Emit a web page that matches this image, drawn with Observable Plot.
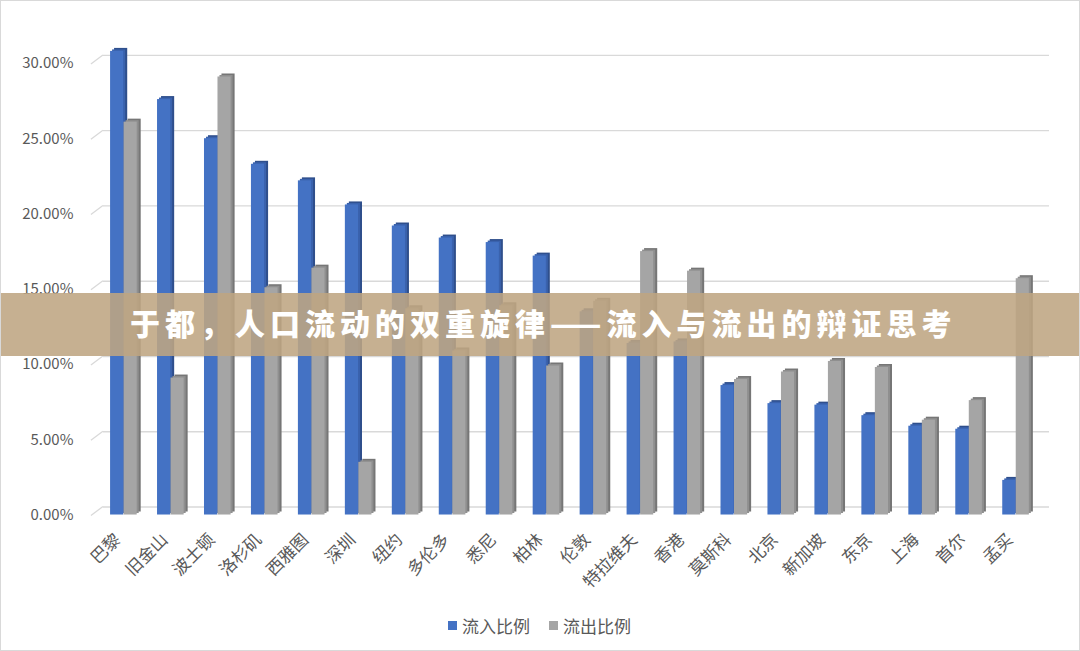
<!DOCTYPE html>
<html><head><meta charset="utf-8">
<script src="https://cdn.jsdelivr.net/npm/d3@7"></script>
<script src="https://cdn.jsdelivr.net/npm/@observablehq/plot@0.6"></script>
<style>
body{margin:0;background:#fff;}
#wrap{position:relative;width:1080px;height:651px;box-sizing:border-box;border:1px solid #d9d9d9;overflow:hidden;font-family:"Noto Sans CJK SC",sans-serif;background:#fff;}
#chart{position:absolute;left:-1px;top:-1px;}
#banner{position:absolute;left:-1px;top:292px;width:1080px;height:63px;background:rgba(190,165,130,0.88);}
#banner span{position:absolute;left:130px;top:14px;line-height:30px;color:#fff;font-weight:900;font-size:30px;letter-spacing:5px;white-space:nowrap;}
#legend{position:absolute;top:612px;left:447px;display:flex;align-items:center;color:#595959;font-size:17px;white-space:nowrap;}
#legend .sw{display:inline-block;width:9px;height:9px;margin-right:5px;}
#legend .item{display:flex;align-items:center;margin-right:19px;}
</style></head>
<body>
<div id="wrap">
  <div id="chart"></div>
  <div id="legend"></div>
  <div id="banner"><span></span></div>
</div>
<script>
const cities = ["巴黎","旧金山","波士顿","洛杉矶","西雅图","深圳","纽约","多伦多","悉尼","柏林","伦敦","特拉维夫","香港","莫斯科","北京","新加坡","东京","上海","首尔","孟买"];
const inflow  = [30.8, 27.6, 25.0, 23.3, 22.2, 20.6, 19.2, 18.4, 18.1, 17.2, 13.5, 11.4, 11.5, 8.6, 7.4, 7.3, 6.6, 5.9, 5.7, 2.3];
const outflow = [26.1, 9.1, 29.1, 15.1, 16.4, 3.5, 13.7, 10.9, 13.9, 9.9, 14.2, 17.5, 16.2, 9.0, 9.5, 10.2, 9.8, 6.3, 7.6, 15.7];
const yTicks = [0, 0.05, 0.10, 0.15, 0.20, 0.25, 0.30];
const seriesNames = ["流入比例", "流出比例"];
const title = "于都，人口流动的双重旋律——流入与流出的辩证思考";

const rows = cities.map((c, i) => ({city: c, inflow: inflow[i] / 100, outflow: outflow[i] / 100}));

const W = 1080, H = 600, ML = 96, MR = 37;
const bw = (W - ML - MR) / cities.length;
const face = 13.5;
const outer = bw / 2 - face;
const half = bw / 2;

const blue = "#4472c4", blueTop = "#3a62ad", blueSide = "#2f4f8c";
const gray = "#a5a5a5", grayTop = "#8f8f8f", graySide = "#767676";

function diagonals(index, scales, values, dimensions) {
  const g = d3.create("svg:g").attr("stroke", "#d9d9d9").attr("stroke-width", 1.3);
  for (const t of yTicks) {
    const y = scales.y(t);
    g.append("line").attr("x1", dimensions.marginLeft - 5).attr("y1", y + 1)
      .attr("x2", dimensions.marginLeft + 7).attr("y2", y - 8);
  }
  return g.node();
}

const chart = Plot.plot({
  width: W, height: H,
  marginLeft: ML, marginRight: MR, marginTop: 63, marginBottom: 85,
  style: {fontFamily: '"Noto Sans CJK SC", sans-serif', color: "#595959", background: "transparent"},
  x: {type: "band", domain: cities, padding: 0, label: null},
  y: {domain: [0, 0.30], label: null},
  marks: [
    Plot.ruleY(yTicks, {y: d => d, stroke: "#d9d9d9", strokeWidth: 1.3, dx: 7, dy: -8}),
    diagonals,
    Plot.axisY({ticks: yTicks, tickFormat: d3.format(".2%"), tickSize: 0, tickPadding: 23, fontSize: 15, fill: "#595959"}),
    Plot.axisX({tickSize: 0, tickRotate: -45, tickPadding: 22, fontSize: 17, fill: "#595959", dx: -6}),
    // inflow bars: side, top, front
    Plot.barY(rows, {x: "city", y: "inflow", fill: blueSide, insetLeft: outer, insetRight: half, dx: 4, dy: -3}),
    Plot.barY(rows, {x: "city", y: "inflow", fill: blueTop, insetLeft: outer, insetRight: half, dx: 2, dy: -1.5}),
    Plot.barY(rows, {x: "city", y: "inflow", fill: blue, insetLeft: outer, insetRight: half}),
    // outflow bars
    Plot.barY(rows, {x: "city", y: "outflow", fill: graySide, insetLeft: half, insetRight: outer, dx: 4, dy: -3}),
    Plot.barY(rows, {x: "city", y: "outflow", fill: grayTop, insetLeft: half, insetRight: outer, dx: 2, dy: -1.5}),
    Plot.barY(rows, {x: "city", y: "outflow", fill: gray, insetLeft: half, insetRight: outer})
  ]
});
document.getElementById("chart").appendChild(chart);

const legend = document.getElementById("legend");
[[seriesNames[0], blue], [seriesNames[1], gray]].forEach(([name, col]) => {
  const it = document.createElement("div");
  it.className = "item";
  it.innerHTML = `<span class="sw" style="background:${col}"></span><span>${name}</span>`;
  legend.appendChild(it);
});
document.querySelector("#banner span").textContent = title;
</script>
</body></html>
